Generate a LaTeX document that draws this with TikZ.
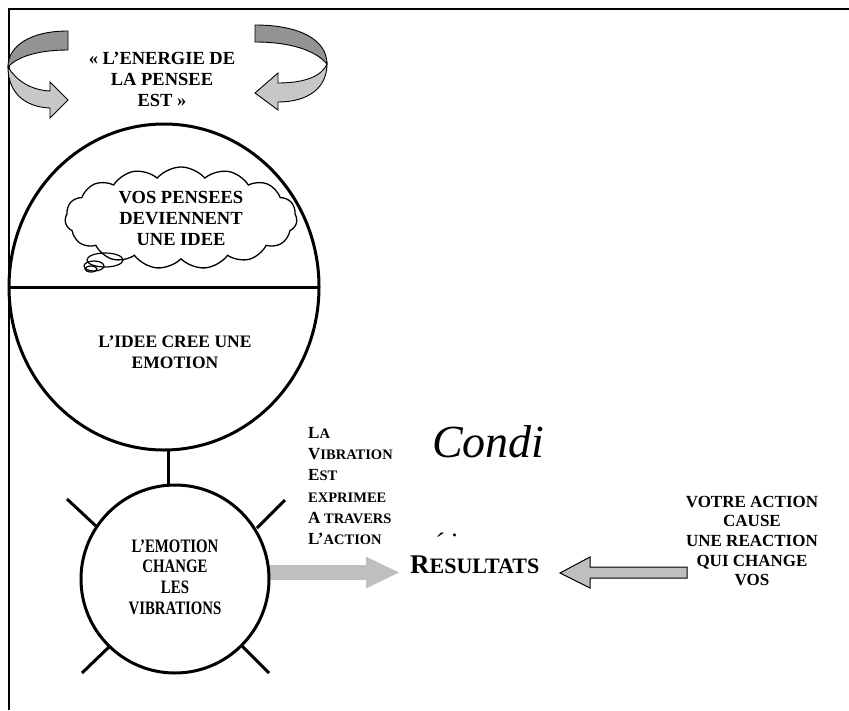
\documentclass[tikz,border=0pt]{standalone}
\usepackage{fontspec}
\setmainfont{Liberation Serif}
\usepackage{graphicx}
\usetikzlibrary{arrows.meta,shapes.geometric,shapes.symbols,positioning}
\newcommand\capbig[1]{{\fontsize{17}{21}\selectfont #1}}
\newcommand\capsmall[1]{{\fontsize{14.5}{21}\selectfont #1}}

\begin{document}
\begin{tikzpicture}[x=1pt,y=-1pt,
  ring/.style={draw,line width=3pt,inner sep=0pt,outer sep=0pt},
  lbl/.style={font=\bfseries,align=center,inner sep=0pt},
  darkband/.style={draw,line width=.9pt,fill=black!42},
  lightband/.style={draw,line width=.9pt,fill=black!22}]

\useasboundingbox (0,0) rectangle (849,710);
\draw[line width=1.6pt] (9,710) -- (9,9) -- (849,9);

% curved arrows round the title
\draw[darkband] (68,31) .. controls (30,31) and (8,46) .. (8,67) .. controls (18,56) and (40,50) .. (68,50) -- cycle;
\draw[lightband] (8,67) .. controls (16,80) and (30,90) .. (50,91) -- (50,82) -- (68,100) -- (50,118) -- (50,108) .. controls (24,107) and (8,92) .. (8,67) -- cycle;
\draw[darkband] (255,25) .. controls (300,25) and (327,40) .. (327,64) .. controls (315,50) and (290,42) .. (255,42) -- cycle;
\draw[lightband] (327,64) .. controls (322,76) and (305,83) .. (278,83) -- (278,73) -- (255,93) -- (278,110) -- (278,102) .. controls (308,102) and (327,88) .. (327,64) -- cycle;
\node[lbl,font=\bfseries\fontsize{18.5}{21}\selectfont] (energy) at (162,79) {« L’ENERGIE DE\\LA PENSEE\\EST »};

% the two circles
\node[ring,ellipse,minimum width=310,minimum height=326] (idea) at (164,287) {};
\draw[line width=3pt] (idea.west) -- (idea.east);
\node[ring,line width=1.3pt,cloud,cloud puffs=15,cloud puff arc=100,aspect=2.4,minimum width=232,minimum height=102,lbl,font=\bfseries\fontsize{18.5}{21}\selectfont] (thought) at (181,218) {VOS PENSEES\\DEVIENNENT\\UNE IDEE};
\draw[line width=1.2pt] (105,260) ellipse [x radius=18,y radius=7];
\draw[line width=1.2pt] (94,266) ellipse [x radius=10,y radius=5];
\draw[line width=1.2pt] (91,269) ellipse [x radius=6,y radius=3];
\node[lbl,font=\bfseries\fontsize{17.5}{21}\selectfont] (emotion) at (175,352) {L’IDEE CREE UNE\\EMOTION};

\coordinate (tipA) at (400,572.5);
\draw[line width=15pt,black!25,-{Triangle[length=34pt,width=29pt]}] (269,572.5) -- (tipA);

\node[ring,circle,minimum size=188,font=\bfseries\fontsize{19}{20.7}\selectfont] (emo) at (175,579) {\scalebox{.78}[1]{\begin{tabular}{@{}c@{}}L’EMOTION\\CHANGE\\LES\\VIBRATIONS\end{tabular}}};
\coordinate (cx) at (168,0);
\draw[line width=3pt] (idea.south -| cx) -- (emo.north -| cx);
\foreach \a/\b/\c/\d in {67/499/97/527,257/528/285/500,82/673/110/646,242/646/269/673}
  \draw[line width=3pt] (\a,\b) -- (\c,\d);

% right part
\node[lbl,anchor=west,align=left,font=\bfseries\fontsize{14.5}{21.3}\selectfont] (vib) at (308,486) {\capbig{L}\capsmall{A}\\\capbig{V}\capsmall{IBRATION}\\\capbig{E}\capsmall{ST}\\\capsmall{EXPRIMEE}\\\capbig{A} \capsmall{TRAVERS}\\\capbig{L’}\capsmall{ACTION}};
\node[anchor=base west,inner sep=0pt,font=\itshape\fontsize{46}{46}\selectfont] (cond) at (432,457) {Condi};
\node[anchor=base west,inner sep=0pt,font=\itshape\fontsize{28}{28}\selectfont] (frag) at (434,552) {´\,˙};
\node[anchor=base west,inner sep=0pt,font=\bfseries] (res) at (410,573) {\fontsize{27}{27}\selectfont R\fontsize{22}{22}\selectfont ESULTATS};
\node[lbl,font=\bfseries\fontsize{17}{19.6}\selectfont] (act) at (752,541) {VOTRE ACTION\\CAUSE\\UNE REACTION\\QUI CHANGE\\VOS};
\coordinate (tipB) at (560,573);
\draw[line width=1pt,fill=black!25] (tipB) -- ++(30,-16) -- ++(0,10) -- ++(97,0) -- ++(0,11) -- ++(-97,0) -- ++(0,10) -- cycle;
\end{tikzpicture}
\end{document}
